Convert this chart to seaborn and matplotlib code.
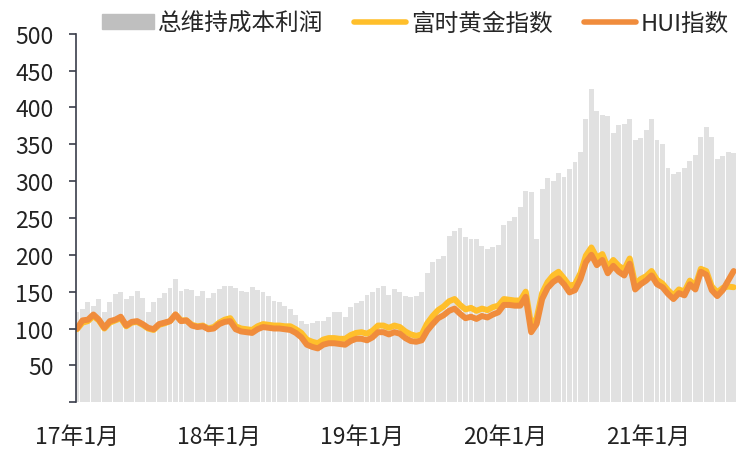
import numpy as np
import pandas as pd
import matplotlib.pyplot as plt
from matplotlib.patches import Patch
from matplotlib.lines import Line2D
import seaborn as sns

# 双周数据, 2017-01 至 2021-08
dates = pd.date_range('2017-01-02', periods=121, freq='14D')

profit = [122, 126, 136, 131, 140, 122, 136, 147, 149, 140,
          144, 151, 142, 122, 136, 142, 148, 155, 167, 151,
          154, 152, 144, 151, 142, 148, 153, 158, 158, 155,
          151, 149, 156, 152, 149, 144, 138, 136, 130, 126,
          118, 110, 106, 108, 110, 110, 116, 122, 123, 115,
          129, 134, 138, 145, 150, 155, 158, 146, 153, 149,
          144, 143, 144, 150, 175, 190, 194, 198, 226, 233,
          236, 224, 221, 222, 212, 208, 210, 213, 240, 246,
          252, 265, 286, 285, 222, 290, 304, 300, 311, 306,
          316, 326, 340, 385, 425, 395, 390, 388, 365, 376,
          378, 385, 356, 358, 370, 385, 356, 350, 318, 310,
          312, 318, 328, 336, 360, 373, 360, 330, 334, 340,
          338]

ftse_gold = [99, 108, 110, 117, 111, 100, 108, 111, 114, 103,
             108, 109, 105, 100, 98, 105, 107, 110, 119, 111,
             111, 105, 103, 104, 100, 102, 108, 112, 114, 103,
             100, 99, 98, 103, 106, 105, 104, 104, 103, 103,
             99, 94, 85, 82, 80, 85, 87, 87, 86, 86,
             91, 94, 95, 93, 97, 104, 104, 101, 104, 102,
             96, 92, 90, 92, 107, 117, 125, 130, 137, 140,
             132, 126, 128, 124, 127, 125, 129, 131, 140, 139,
             138, 138, 150, 104, 114, 148, 163, 172, 177, 168,
             158, 160, 175, 199, 210, 196, 201, 183, 193, 185,
             180, 195, 160, 167, 171, 178, 166, 161, 152, 145,
             153, 150, 165, 158, 181, 178, 157, 149, 155, 157,
             156]

hui = [100, 111, 112, 119, 112, 101, 110, 112, 116, 104,
       109, 110, 106, 101, 99, 106, 108, 110, 119, 110,
       111, 104, 102, 103, 99, 100, 106, 109, 110, 99,
       96, 95, 94, 99, 102, 101, 100, 100, 99, 98,
       94, 88, 78, 75, 73, 78, 80, 80, 79, 78,
       83, 86, 86, 84, 88, 95, 95, 92, 95, 93,
       87, 83, 82, 84, 97, 106, 114, 118, 124, 127,
       120, 114, 116, 113, 117, 115, 119, 122, 132, 132,
       131, 131, 143, 95, 106, 140, 155, 163, 168, 160,
       149, 152, 167, 190, 200, 186, 193, 175, 185, 177,
       172, 188, 153, 160, 165, 172, 160, 156, 147, 140,
       148, 145, 160, 153, 177, 173, 152, 144, 152, 165,
       178]

year_ticks = pd.to_datetime(['2017-01-01', '2018-01-01', '2019-01-01',
                             '2020-01-01', '2021-01-01'])
year_labels = ['17年1月', '18年1月', '19年1月', '20年1月', '21年1月']

sns.set_theme(style='white')
plt.rcParams['font.family'] = ['Noto Sans CJK SC', 'DejaVu Sans']
plt.rcParams['lines.solid_capstyle'] = 'round'

fig = plt.figure(figsize=(7.36, 4.52), dpi=100)
ax = fig.add_axes([0.103, 0.108, 0.897, 0.815])

ax.bar(dates, profit, width=12.5, color='#e1e1e1', linewidth=0)
sns.lineplot(x=dates, y=ftse_gold, ax=ax, color='#FFBF2B', linewidth=4.3)
sns.lineplot(x=dates, y=hui, ax=ax, color='#F08C3C', linewidth=4.3)

ax.set_xlim(pd.Timestamp('2016-12-30'), pd.Timestamp('2021-08-15'))
ax.set_ylim(0, 500)
ax.set_yticks(np.arange(0, 501, 50))
ax.set_yticklabels([''] + [str(v) for v in range(50, 501, 50)])
ax.set_xticks(year_ticks)
ax.set_xticklabels(year_labels)
ax.set_xlabel('')
ax.set_ylabel('')

for s in ['top', 'right', 'bottom']:
    ax.spines[s].set_visible(False)
ax.spines['left'].set_color('#3a3d4a')
ax.spines['left'].set_linewidth(1.2)
ax.tick_params(axis='y', left=True, length=5, width=1.2, color='#3a3d4a',
               labelsize=16.5, pad=11, labelcolor='#222222')
ax.tick_params(axis='x', bottom=False, length=0, labelsize=16.5, pad=16,
               labelcolor='#222222')

handles = [Patch(color='#bfbfbf'),
           Line2D([], [], color='#FFBF2B', linewidth=4),
           Line2D([], [], color='#F08C3C', linewidth=4)]
labels = ['总维持成本利润', '富时黄金指数', 'HUI指数']
fig.legend(handles, labels, loc='center', bbox_to_anchor=(0.564, 0.947), ncol=3,
           frameon=False, fontsize=17, handlelength=2.2, handleheight=0.6,
           handletextpad=0.2, columnspacing=1.3, borderaxespad=0)

fig.savefig('out.png', dpi=100)
